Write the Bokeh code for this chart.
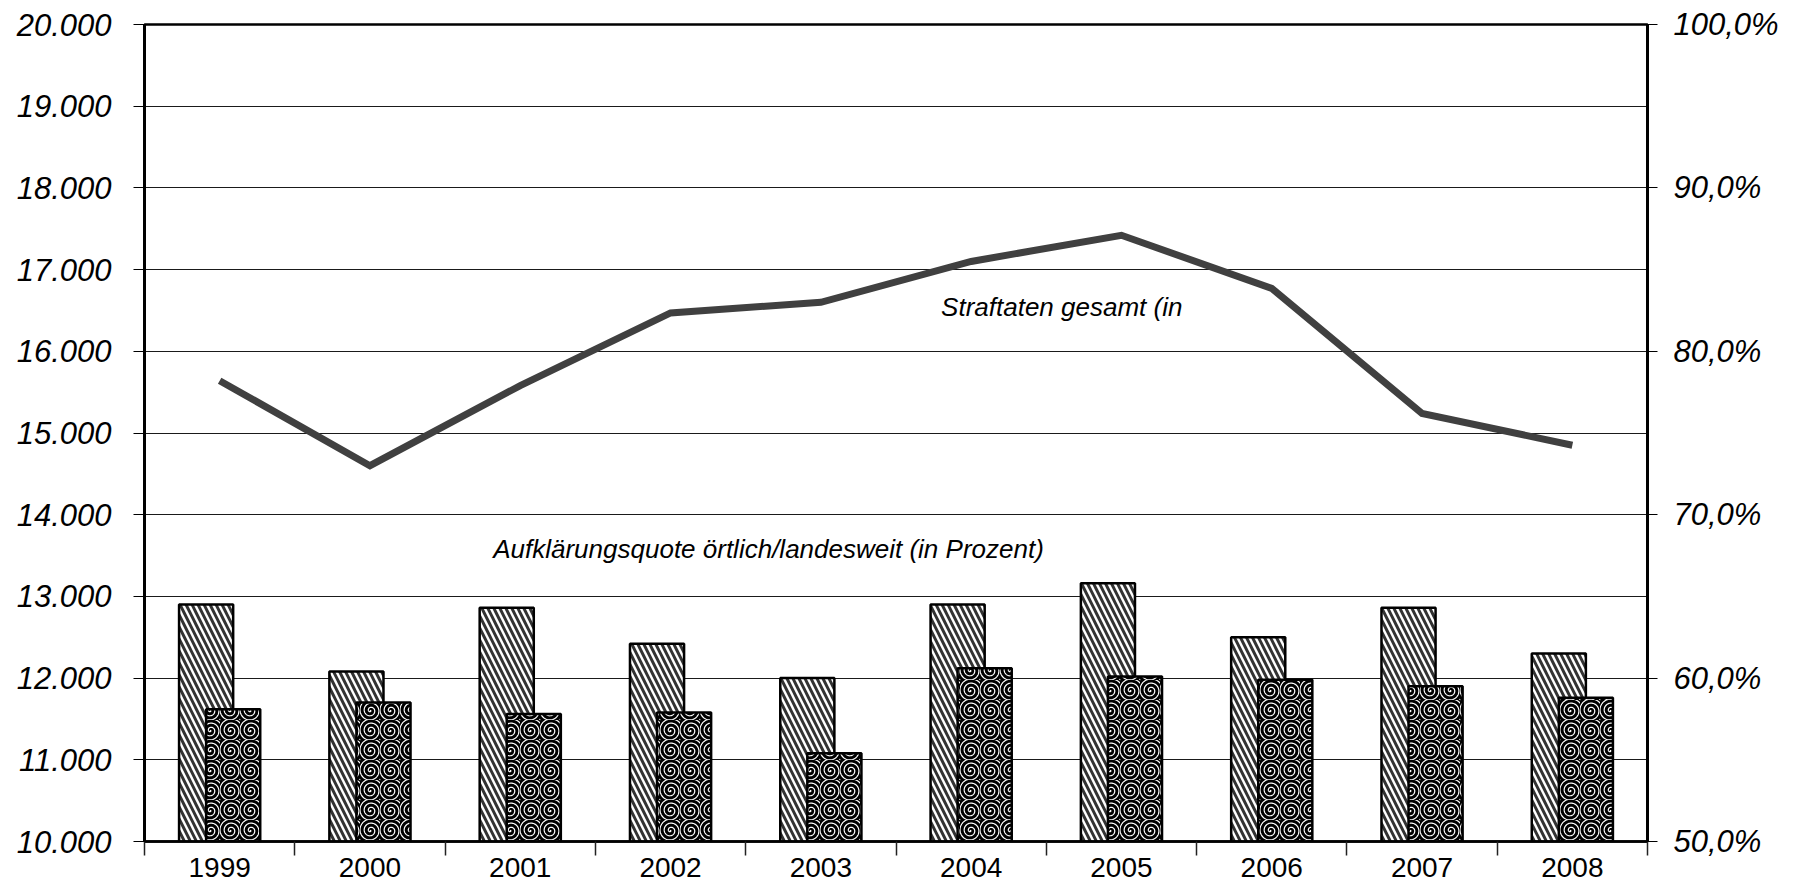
from bokeh.plotting import figure
from bokeh.models import Range1d, LinearAxis, FixedTicker, Label, ColumnDataSource
from bokeh.transform import dodge
from bokeh.embed import file_html
from bokeh.resources import INLINE

# ---- data ----
years = [1999, 2000, 2001, 2002, 2003, 2004, 2005, 2006, 2007, 2008]
straftaten_gesamt = [15640, 14600, 15580, 16470, 16600, 17100, 17420, 16770, 15240, 14850]
quote_oertlich = [64.5, 60.4, 64.3, 62.1, 60.0, 64.5, 65.8, 62.5, 64.3, 61.5]
quote_landesweit = [58.1, 58.5, 57.8, 57.9, 55.4, 60.6, 60.1, 59.9, 59.5, 58.8]

left_ticks = [10000, 11000, 12000, 13000, 14000, 15000, 16000, 17000, 18000, 19000, 20000]
left_tick_labels = ["10.000", "11.000", "12.000", "13.000", "14.000", "15.000",
                    "16.000", "17.000", "18.000", "19.000", "20.000"]
right_ticks = [50, 60, 70, 80, 90, 100]
right_tick_labels = ["50,0%", "60,0%", "70,0%", "80,0%", "90,0%", "100,0%"]

label_line = "Straftaten gesamt (in"
label_bars = "Aufklärungsquote örtlich/landesweit (in Prozent)"

# ---- build ----
pos = [i + 1 for i in range(len(years))]
src = ColumnDataSource(dict(pos=pos, year=years, total=straftaten_gesamt,
                            oert=quote_oertlich, land=quote_landesweit))

FONT = "Liberation Sans"

p = figure(width=1790, height=885,
           x_range=Range1d(0.5, len(years) + 0.5),
           y_range=Range1d(left_ticks[0], left_ticks[-1]),
           output_backend="svg", toolbar_location=None,
           min_border_left=144, min_border_right=143,
           min_border_top=24, min_border_bottom=44)
p.extra_y_ranges = {"pct": Range1d(right_ticks[0], right_ticks[-1])}
p.background_fill_color = "white"
p.border_fill_color = "white"
p.outline_line_color = "black"
p.outline_line_width = 2.5

# grid
p.xgrid.visible = False
p.ygrid.ticker = FixedTicker(ticks=left_ticks)
p.ygrid.grid_line_color = "#1a1a1a"
p.ygrid.grid_line_width = 1.2

# x axis
xa = p.xaxis[0]
xa.ticker = FixedTicker(ticks=pos, minor_ticks=[x - 0.5 for x in pos] + [pos[-1] + 0.5])
xa.major_label_overrides = {x: str(y) for x, y in zip(pos, years)}
xa.major_tick_line_color = None
xa.major_tick_out = 10
xa.major_tick_in = 0
xa.minor_tick_out = 14
xa.minor_tick_in = 0
xa.minor_tick_line_color = "#222222"
xa.minor_tick_line_width = 1.5
xa.axis_line_color = "black"
xa.axis_line_width = 2.5
xa.major_label_standoff = 2
xa.major_label_text_font = FONT
xa.major_label_text_font_size = "28px"
xa.major_label_text_color = "black"

# left axis
ya = p.yaxis[0]
ya.ticker = FixedTicker(ticks=left_ticks)
ya.major_label_overrides = {t: l for t, l in zip(left_ticks, left_tick_labels)}
ya.major_tick_out = 11
ya.major_tick_in = 0
ya.minor_tick_line_color = None
ya.major_tick_line_color = "black"
ya.major_tick_line_width = 1.2
ya.axis_line_color = "black"
ya.axis_line_width = 3
ya.major_label_standoff = 22
ya.major_label_text_font = FONT
ya.major_label_text_font_style = "italic"
ya.major_label_text_font_size = "31px"
ya.major_label_text_color = "black"

# right axis
ra = LinearAxis(y_range_name="pct", ticker=FixedTicker(ticks=right_ticks))
ra.major_label_overrides = {t: l for t, l in zip(right_ticks, right_tick_labels)}
ra.major_tick_out = 10
ra.major_tick_in = 0
ra.minor_tick_line_color = None
ra.major_tick_line_color = "black"
ra.major_tick_line_width = 1.2
ra.axis_line_color = "black"
ra.axis_line_width = 3
ra.major_label_standoff = 16
ra.major_label_text_font = FONT
ra.major_label_text_font_style = "italic"
ra.major_label_text_font_size = "31px"
ra.major_label_text_color = "black"
p.add_layout(ra, "right")

# bars
bw = 0.36
p.vbar(x=dodge("pos", -0.09), top="oert", bottom=right_ticks[0], width=bw, source=src,
       y_range_name="pct", fill_color="white", line_color="black", line_width=2.5,
       hatch_pattern="\\", hatch_color="#333333", hatch_weight=3, hatch_scale=12)
p.vbar(x=dodge("pos", 0.09), top="land", bottom=right_ticks[0], width=bw, source=src,
       y_range_name="pct", fill_color="black", line_color="black", line_width=2.5,
       hatch_pattern="spiral", hatch_color="white", hatch_weight=1.2, hatch_scale=20)

# line
p.line(x="pos", y="total", source=src, line_color="#404040", line_width=7,
       line_join="miter")

# labels
p.add_layout(Label(x=5.8, y=16540, text=label_line, text_font=FONT,
                   text_font_style="italic", text_font_size="26px",
                   text_baseline="middle", text_color="black"))
p.add_layout(Label(x=2.82, y=13575, text=label_bars, text_font=FONT,
                   text_font_style="italic", text_font_size="26px",
                   text_baseline="middle", text_color="black"))

open("out.html", "w").write(file_html(p, INLINE))
